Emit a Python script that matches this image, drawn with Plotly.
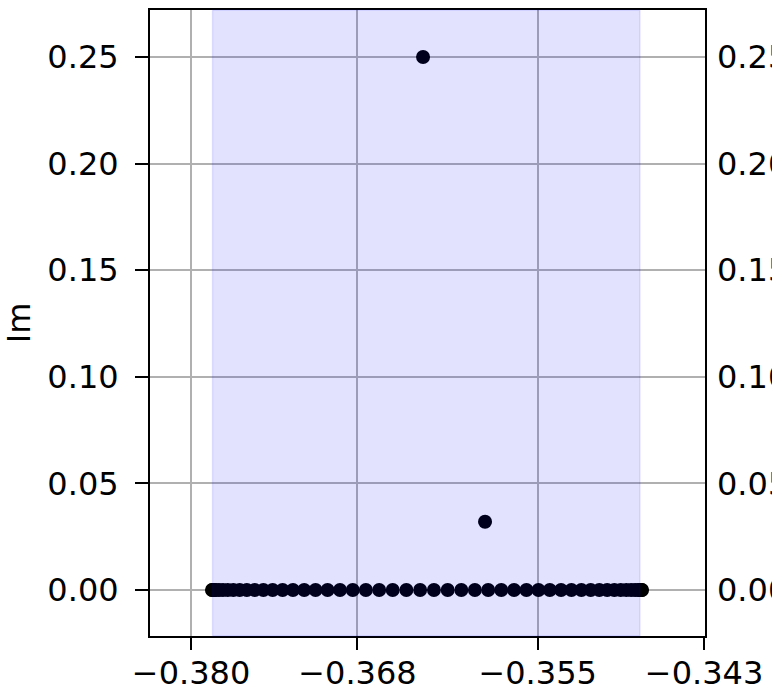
import plotly.graph_objects as go

# Real eigenvalue parts on the real axis (Im = 0)
re_real = [-0.378486, -0.378454, -0.378359, -0.378200, -0.377979, -0.377696, -0.377353,
           -0.376950, -0.376490, -0.375975, -0.375405, -0.374784, -0.374113, -0.373396,
           -0.372648, -0.371837, -0.371018, -0.370151, -0.369256, -0.368335, -0.367391,
           -0.366430, -0.365454, -0.364468, -0.363476, -0.362482, -0.361490, -0.360504,
           -0.359528, -0.358567, -0.357623, -0.356702, -0.355807, -0.354940, -0.354121,
           -0.353310, -0.352562, -0.351845, -0.351174, -0.350553, -0.349983, -0.349468,
           -0.349008, -0.348605, -0.348262, -0.347979, -0.347758, -0.347599, -0.347504,
           -0.347472]
im_real = [0.0] * len(re_real)

# Complex points
re_cplx = [-0.363267, -0.358795]
im_cplx = [0.2500, 0.0320]

# Shaded band
band = [-0.37845, -0.34762]

xtick_vals = [-0.380, -0.368, -0.355, -0.343]
xtick_text = ["\u22120.380", "\u22120.368", "\u22120.355", "\u22120.343"]
ytick_vals = [0.00, 0.05, 0.10, 0.15, 0.20, 0.25]
ytick_text = ["0.00", "0.05", "0.10", "0.15", "0.20", "0.25"]

xr = [-0.38296, -0.34293]
yr = [-0.02158, 0.27204]

FONT = "DejaVu Sans"
FS = 32

all_x = re_real + re_cplx
all_y = im_real + im_cplx

fig = go.Figure()
fig.add_trace(go.Scatter(x=all_x, y=all_y, mode="markers",
                         marker=dict(size=14, color="black", line=dict(width=0)),
                         showlegend=False, hoverinfo="x+y"))
# invisible companion for the right-hand axis
fig.add_trace(go.Scatter(x=all_x, y=all_y, mode="markers", yaxis="y2",
                         marker=dict(size=1, opacity=0), showlegend=False, hoverinfo="skip"))

fig.add_shape(type="rect", xref="x", yref="paper", x0=band[0], x1=band[1], y0=0, y1=1,
              fillcolor="rgba(0,0,255,0.115)", line=dict(color="rgba(0,0,255,0.1)", width=1.5),
              layer="above")

fig.update_layout(
    width=772, height=692,
    margin=dict(l=150, r=67, t=10, b=56),
    paper_bgcolor="white", plot_bgcolor="white",
    font=dict(family=FONT, size=FS, color="black"),
    xaxis=dict(range=xr, tickvals=xtick_vals, ticktext=xtick_text, automargin=False,
               showgrid=True, gridcolor="#b0b0b0", gridwidth=1.6,
               zeroline=False, showline=True, linecolor="black", linewidth=2, mirror=True,
               ticks="outside", ticklen=12, tickwidth=2, tickcolor="black",
               ticklabelstandoff=-4, tickfont=dict(size=FS)),
    yaxis=dict(range=yr, tickvals=ytick_vals, ticktext=ytick_text, automargin=False,
               showgrid=True, gridcolor="#b0b0b0", gridwidth=1.6,
               zeroline=False, showline=True, linecolor="black", linewidth=2, mirror=True,
               ticks="outside", ticklen=13, tickwidth=2, tickcolor="black",
               ticklabelstandoff=10, tickfont=dict(size=FS),
               title=dict(text="Im", font=dict(size=FS), standoff=20)),
    yaxis2=dict(range=yr, overlaying="y", side="right", tickvals=ytick_vals, ticktext=ytick_text,
                automargin=False, anchor="x",
                showgrid=False, zeroline=False, showline=False, ticks="",
                ticklabelstandoff=11, tickfont=dict(size=FS)),
)

fig.write_html("out.html")
